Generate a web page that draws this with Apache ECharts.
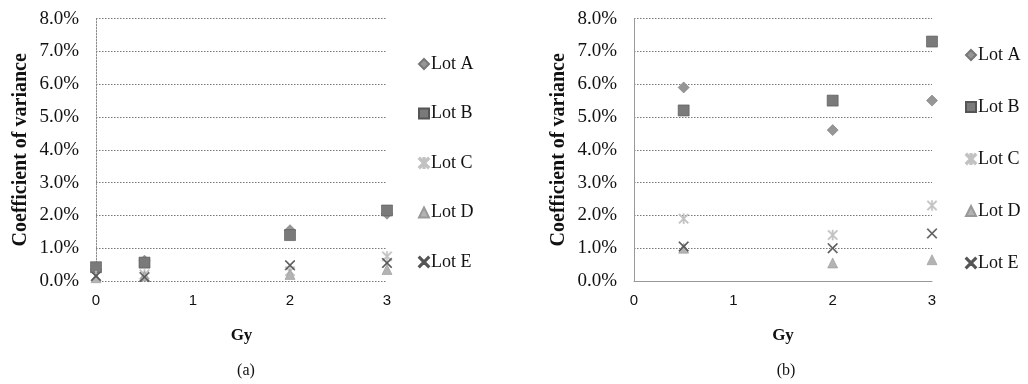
<!DOCTYPE html>
<html>
<head>
<meta charset="utf-8">
<script src="https://cdn.jsdelivr.net/npm/echarts@6/dist/echarts.min.js"></script>
<style>
html,body{margin:0;padding:0;background:#fff;}
#c{width:1028px;height:384px;}
</style>
</head>
<body>
<div id="c"></div>
<script>
// ---- data (percent) ----
const lots = ['Lot A', 'Lot B', 'Lot C', 'Lot D', 'Lot E'];
const gyA = [0, 0.5, 2, 3];
const gyB = [0.5, 2, 3];
const lotA_a = [0.35, 0.62, 1.55, 2.05];
const lotB_a = [0.42, 0.56, 1.40, 2.15];
const lotC_a = [0.15, 0.20, 0.30, 0.75];
const lotD_a = [0.10, 0.15, 0.20, 0.35];
const lotE_a = [0.15, 0.12, 0.48, 0.55];
const lotA_b = [5.9, 4.6, 5.5];
const lotB_b = [5.2, 5.5, 7.3];
const lotC_b = [1.9, 1.4, 2.3];
const lotD_b = [1.0, 0.55, 0.65];
const lotE_b = [1.05, 1.0, 1.45];
const yTicks = [0, 1, 2, 3, 4, 5, 6, 7, 8];
const xTicks = [0, 1, 2, 3];
const panelLabels = ['(a)', '(b)'];

const seriesA = [lotA_a, lotB_a, lotC_a, lotD_a, lotE_a];
const seriesB = [lotA_b, lotB_b, lotC_b, lotD_b, lotE_b];

// ---- styles ----
const xPath = 'path://M0,0.08 L0.08,0 L0.5,0.42 L0.92,0 L1,0.08 L0.58,0.5 L1,0.92 L0.92,1 L0.5,0.58 L0.08,1 L0,0.92 L0.42,0.5 Z';
const astPath = 'path://M0,0.1 L0.1,0 L0.5,0.4 L0.9,0 L1,0.1 L0.6,0.5 L1,0.9 L0.9,1 L0.5,0.6 L0.1,1 L0,0.9 L0.4,0.5 Z M0.44,0 L0.56,0 L0.56,1 L0.44,1 Z';
const styles = [
  {symbol: 'diamond', size: 11, color: '#969696', border: '#777'},
  {symbol: 'rect', size: 11, color: '#7a7a7a', border: '#555'},
  {symbol: astPath, size: 10, color: '#c2c2c2', border: '#c2c2c2'},
  {symbol: 'triangle', size: 10, color: '#b3b3b3', border: '#999'},
  {symbol: xPath, size: 10, color: '#555', border: '#555'}
];

const serif = 'Liberation Serif';
const sans = 'Liberation Sans';

function mkSeries(sets, xs, idx) {
  return sets.map((vals, i) => ({
    name: lots[i],
    type: 'scatter',
    xAxisIndex: idx,
    yAxisIndex: idx,
    symbol: styles[i].symbol,
    symbolSize: styles[i].size,
    itemStyle: {color: styles[i].color, borderColor: styles[i].border, borderWidth: 0.6, opacity: 1},
    data: vals.map((v, k) => [xs[k], v]),
    z: 2 + i
  }));
}

function mkX(idx, solid) {
  return {
    type: 'value', gridIndex: idx, min: xTicks[0], max: xTicks[xTicks.length - 1], interval: 1,
    name: 'Gy', nameLocation: 'middle', nameGap: 46,
    nameTextStyle: {fontFamily: serif, fontWeight: 'bold', fontSize: 17, color: '#111'},
    axisLine: {show: solid, lineStyle: {color: '#999', width: 1}},
    axisTick: {show: false},
    splitLine: {show: false},
    axisLabel: {fontFamily: sans, fontSize: 15, color: '#111', margin: 12}
  };
}
function mkY(idx, solid) {
  return {
    type: 'value', gridIndex: idx, min: yTicks[0], max: yTicks[yTicks.length - 1], interval: 1,
    name: 'Coefficient of variance', nameLocation: 'middle', nameGap: 65,
    nameTextStyle: {fontFamily: serif, fontWeight: 'bold', fontSize: 20, color: '#111'},
    axisLine: {show: true, lineStyle: {color: solid ? '#999' : '#888', width: 1, type: solid ? 'solid' : [1.5, 1.5]}},
    axisTick: {show: false},
    splitLine: {show: true, lineStyle: {color: '#777', width: 1, type: [1.5, 1.5]}},
    axisLabel: {fontFamily: serif, fontSize: 19, color: '#111', margin: 17,
      formatter: v => v.toFixed(1) + '%'}
  };
}

const chart = echarts.init(document.getElementById('c'), null, {renderer: 'canvas'});
chart.setOption({
  animation: false,
  backgroundColor: '#fff',
  title: [
    {text: panelLabels[0], left: 241, top: 358, textAlign: 'center',
     textStyle: {fontFamily: serif, fontWeight: 'normal', fontSize: 16, color: '#111'}},
    {text: panelLabels[1], left: 781, top: 358, textAlign: 'center',
     textStyle: {fontFamily: serif, fontWeight: 'normal', fontSize: 16, color: '#111'}}
  ],
  grid: [
    {left: 96, top: 18.6, width: 291, height: 262.4, containLabel: false},
    {left: 634, top: 18.6, width: 298, height: 262.4, containLabel: false}
  ],
  legend: [
    {orient: 'vertical', left: 413, top: 50, itemGap: 31.5, itemWidth: 10, itemHeight: 10,
     data: lots, selectedMode: false,
     textStyle: {fontFamily: serif, fontSize: 18, color: '#111', padding: [0, 0, 0, -3]}},
    {orient: 'vertical', left: 960, top: 41, itemGap: 34, itemWidth: 10, itemHeight: 10,
     data: lots, selectedMode: false,
     textStyle: {fontFamily: serif, fontSize: 18, color: '#111', padding: [0, 0, 0, -3]}}
  ],
  xAxis: [mkX(0, false), mkX(1, true)],
  yAxis: [mkY(0, false), mkY(1, true)],
  series: mkSeries(seriesA, gyA, 0).concat(mkSeries(seriesB, gyB, 1))
});
</script>
</body>
</html>
